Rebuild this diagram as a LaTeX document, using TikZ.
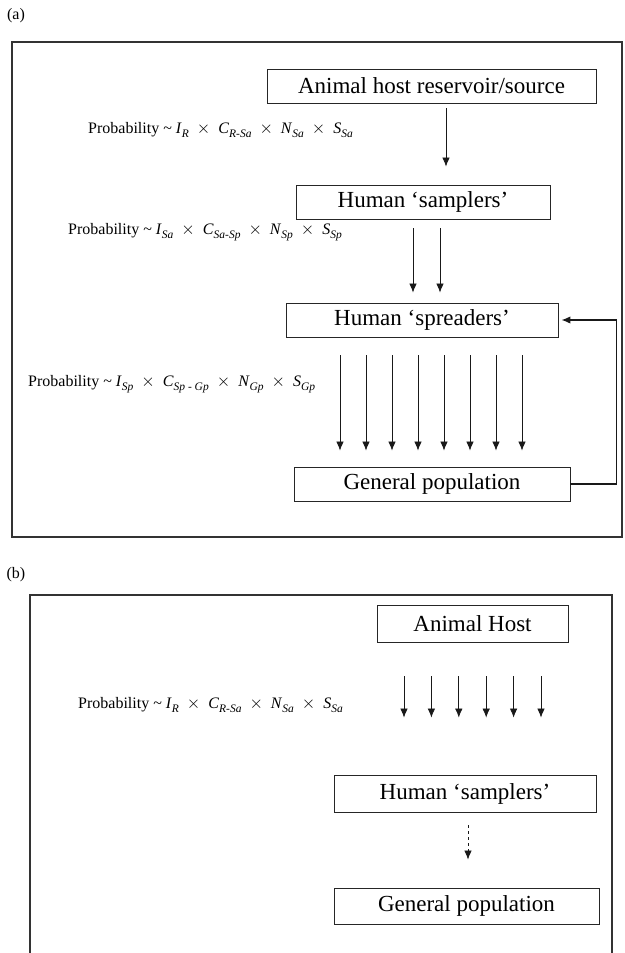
\documentclass[tikz,border=0pt]{standalone}
\usepackage{fontspec}
\setmainfont{Liberation Serif}
\usetikzlibrary{arrows.meta,positioning}

\newcommand{\fac}[2]{\textit{#1}\raisebox{-4.5pt}{\fontsize{11.5}{12}\selectfont\itshape #2}}
\newcommand{\tms}{\hspace{8pt}$\times$\hspace{8pt}}

\begin{document}
\begin{tikzpicture}[
    x=1pt, y=-1pt,
    box/.style={draw=black!85, line width=0.9pt, inner sep=0pt,
        minimum height=34pt, font=\fontsize{23}{26}\selectfont},
    prob/.style={anchor=west, inner sep=0pt, font=\fontsize{16}{19}\selectfont},
    panel/.style={inner sep=0pt, font=\fontsize{16}{18}\selectfont},
    frame/.style={draw=black!80, line width=1.2pt},
    flow/.style={-{Latex[length=9pt,width=7.5pt]}, line width=0.7pt, draw=black!90},
    backflow/.style={flow, line width=1.4pt}
]
\useasboundingbox (0,0) rectangle (624,953);

% panel (a)
\node[panel] (lbla) at (16,16) {(a)};
\draw[frame] (12,42) rectangle (622,537);

\node[box, minimum width=329pt] (reservoir) at (431.5,86) {Animal host reservoir/source};
\node[box, minimum width=254pt] (samplers) at (423,202) {Human `samplers'};
\node[box, minimum width=272pt] (spreaders) at (422,320) {Human `spreaders'};
\node[box, minimum width=276pt] (general) at (432,484) {General population};

\node[prob] (proba) at (88,130) {Probability \textasciitilde{} \fac{I}{R}\tms\fac{C}{R-Sa}\tms\fac{N}{Sa}\tms\fac{S}{Sa}};
\node[prob] (probb) at (68,232) {Probability \textasciitilde{} \fac{I}{Sa}\tms\fac{C}{Sa-Sp}\tms\fac{N}{Sp}\tms\fac{S}{Sp}};
\node[prob] (probc) at (28,384) {Probability \textasciitilde{} \fac{I}{Sp}\tms\fac{C}{Sp - Gp}\tms\fac{N}{Gp}\tms\fac{S}{Gp}};

\draw[flow, shorten <=5pt, shorten >=18pt]
    ([xshift=14.5pt]reservoir.south) -- ([xshift=14.5pt]reservoir.south |- samplers.north);
\foreach \dx in {-9,18}
    \draw[flow, shorten <=9pt, shorten >=10pt]
        ([xshift=\dx pt]spreaders.north |- samplers.south) -- ([xshift=\dx pt]spreaders.north);
\foreach \dx in {-92,-66,-40,-14,12,38,64,90}
    \draw[flow, shorten <=18pt, shorten >=16pt]
        ([xshift=\dx pt]general.north |- spreaders.south) -- ([xshift=\dx pt]general.north);
\draw[backflow] (general.east) -- ++(46,0) |- ([xshift=3pt]spreaders.east);

% panel (b)
\node[panel] (lblb) at (16,575) {(b)};
\draw[frame] (30,960) |- (612,595) -- (612,960);

\node[box, minimum width=191pt, minimum height=37pt] (host) at (472.5,623.5) {Animal Host};
\node[box, minimum width=262pt, minimum height=37pt] (samplersb) at (465,793.5) {Human `samplers'};
\node[box, minimum width=265pt, minimum height=36pt] (generalb) at (466.5,906) {General population};

\node[prob] (probd) at (78,705) {Probability \textasciitilde{} \fac{I}{R}\tms\fac{C}{R-Sa}\tms\fac{N}{Sa}\tms\fac{S}{Sa}};

\foreach \dx in {-68.5,-41.1,-13.7,13.7,41.1,68.5}
    \draw[flow, shorten <=34pt, shorten >=57pt]
        ([xshift=\dx pt]host.south) -- ([xshift=\dx pt]host.south |- samplersb.north);
\draw[flow, dashed, shorten <=13pt, shorten >=28pt]
    ([xshift=3pt]samplersb.south) -- ([xshift=3pt]samplersb.south |- generalb.north);
\end{tikzpicture}
\end{document}
